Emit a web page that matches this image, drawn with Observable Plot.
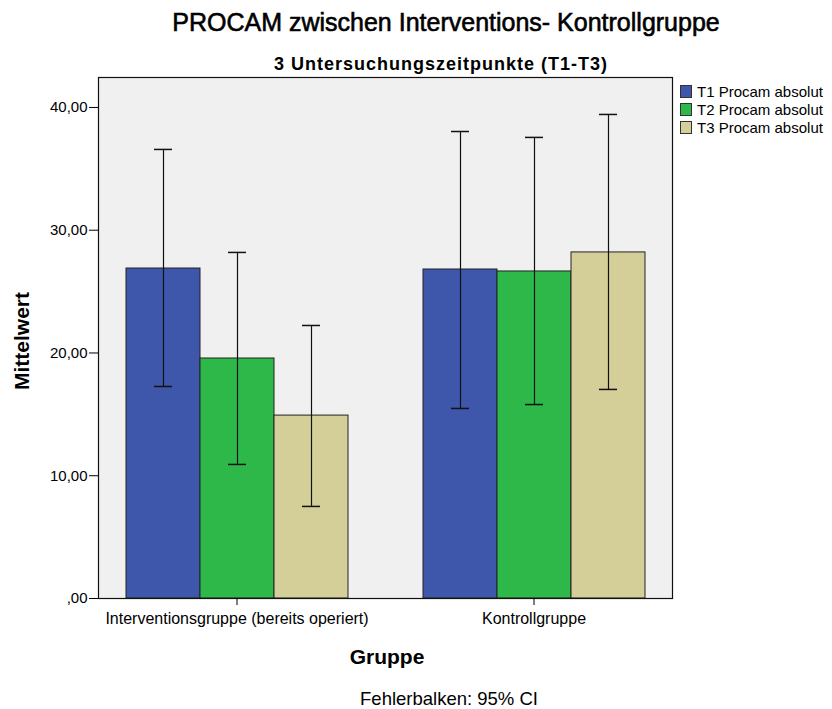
<!DOCTYPE html>
<html>
<head>
<meta charset="utf-8">
<script src="https://cdn.jsdelivr.net/npm/d3@7"></script>
<script src="https://cdn.jsdelivr.net/npm/@observablehq/plot@0.6"></script>
<style>
  body { margin: 0; background: #fff; font-family: "Liberation Sans", Arial, sans-serif; }
  #wrap { position: relative; width: 832px; height: 709px; overflow: hidden; }
  .abs { position: absolute; white-space: nowrap; color: #000; }
  #title { top: 8px; left: 46px; width: 800px; text-align: center; font-size: 25px; font-weight: normal; -webkit-text-stroke: 0.6px #000; }
  #subtitle { top: 54px; left: 41px; width: 800px; text-align: center; font-size: 18px; font-weight: bold; letter-spacing: 1px; }
  #ylab { left: 22px; top: 341px; transform: translate(-50%, -50%) rotate(-90deg); font-size: 21px; font-weight: bold; }
  #xlab { left: 387px; top: 657px; transform: translate(-50%, -50%); font-size: 21px; font-weight: bold; }
  #caption { left: 449px; top: 688px; transform: translateX(-50%); font-size: 18.5px; }
  #legend { left: 680px; top: 82px; font-size: 15px; }
  .row { display: flex; align-items: center; height: 18px; }
  .sw { width: 12px; height: 13px; border: 1px solid #333; box-sizing: border-box; margin-right: 5px; }
  #chart { position: absolute; left: 0; top: 70px; }
</style>
</head>
<body>
<div id="wrap">
  <div id="title" class="abs"></div>
  <div id="subtitle" class="abs"></div>
  <div id="chart"></div>
  <div id="ylab" class="abs"></div>
  <div id="xlab" class="abs"></div>
  <div id="caption" class="abs"></div>
  <div id="legend" class="abs"></div>
</div>
<script>
const titleText = "PROCAM zwischen Interventions- Kontrollgruppe";
const subtitleText = "3 Untersuchungszeitpunkte (T1-T3)";
const yLabel = "Mittelwert";
const xLabel = "Gruppe";
const captionText = "Fehlerbalken: 95% CI";

const groups = ["Interventionsgruppe (bereits operiert)", "Kontrollgruppe"];
const series = ["T1 Procam absolut", "T2 Procam absolut", "T3 Procam absolut"];
const colors = ["#3e57ab", "#2fb84a", "#d4cf98"];

const meansInterv = [26.88, 19.55, 14.9];
const ciLowInterv = [17.27, 10.92, 7.5];
const ciHighInterv = [36.58, 28.19, 22.24];

const meansKontroll = [26.8, 26.64, 28.19];
const ciLowKontroll = [15.48, 15.8, 17.03];
const ciHighKontroll = [38.04, 37.56, 39.43];

const yTicks = [0, 10, 20, 30, 40];
const yMax = 42.44;

const data = [];
series.forEach((s, i) => {
  data.push({group: groups[0], series: s, mean: meansInterv[i], lo: ciLowInterv[i], hi: ciHighInterv[i]});
  data.push({group: groups[1], series: s, mean: meansKontroll[i], lo: ciLowKontroll[i], hi: ciHighKontroll[i]});
});

document.getElementById("title").textContent = titleText;
document.getElementById("subtitle").textContent = subtitleText;
document.getElementById("ylab").textContent = yLabel;
document.getElementById("xlab").textContent = xLabel;
document.getElementById("caption").textContent = captionText;
const leg = document.getElementById("legend");
series.forEach((s, i) => {
  const r = document.createElement("div"); r.className = "row";
  const sw = document.createElement("div"); sw.className = "sw"; sw.style.background = colors[i];
  const t = document.createElement("span"); t.textContent = s;
  r.appendChild(sw); r.appendChild(t); leg.appendChild(r);
});

const fmt = d => d === 0 ? ",00" : d.toFixed(2).replace(".", ",");

const chart = Plot.plot({
  width: 832,
  height: 570,
  marginLeft: 97,
  marginRight: 159,
  marginTop: 7,
  marginBottom: 42,
  style: {fontFamily: "Liberation Sans, Arial, sans-serif", fontSize: "15px", color: "#000", background: "transparent"},
  fx: {domain: groups, paddingInner: 0.067, paddingOuter: 0, label: null},
  x: {domain: series, paddingInner: 0, paddingOuter: 0.36, axis: null},
  y: {domain: [0, yMax], label: null},
  color: {domain: series, range: colors},
  marks: [
    Plot.frame({fill: "#f0f0f0", stroke: "none", facet: "super"}),
    Plot.barY(data, {fx: "group", x: "series", y: "mean", fill: "series", stroke: "#222", strokeWidth: 1}),
    Plot.ruleX(data, {fx: "group", x: "series", y1: "lo", y2: "hi", stroke: "#111", strokeWidth: 1.2}),
    Plot.tickY(data, {fx: "group", x: "series", y: "hi", stroke: "#111", strokeWidth: 1.5, inset: 28}),
    Plot.tickY(data, {fx: "group", x: "series", y: "lo", stroke: "#111", strokeWidth: 1.5, inset: 28}),
    Plot.frame({stroke: "#111", strokeWidth: 1.2, facet: "super"}),
    Plot.axisY({ticks: yTicks, tickFormat: fmt, tickSize: 9, tickPadding: 2, fontSize: 15, label: null}),
    Plot.axisFx({anchor: "bottom", tickSize: 7, tickPadding: 7, fontSize: 16, label: null})
  ]
});
document.getElementById("chart").appendChild(chart);
</script>
</body>
</html>
